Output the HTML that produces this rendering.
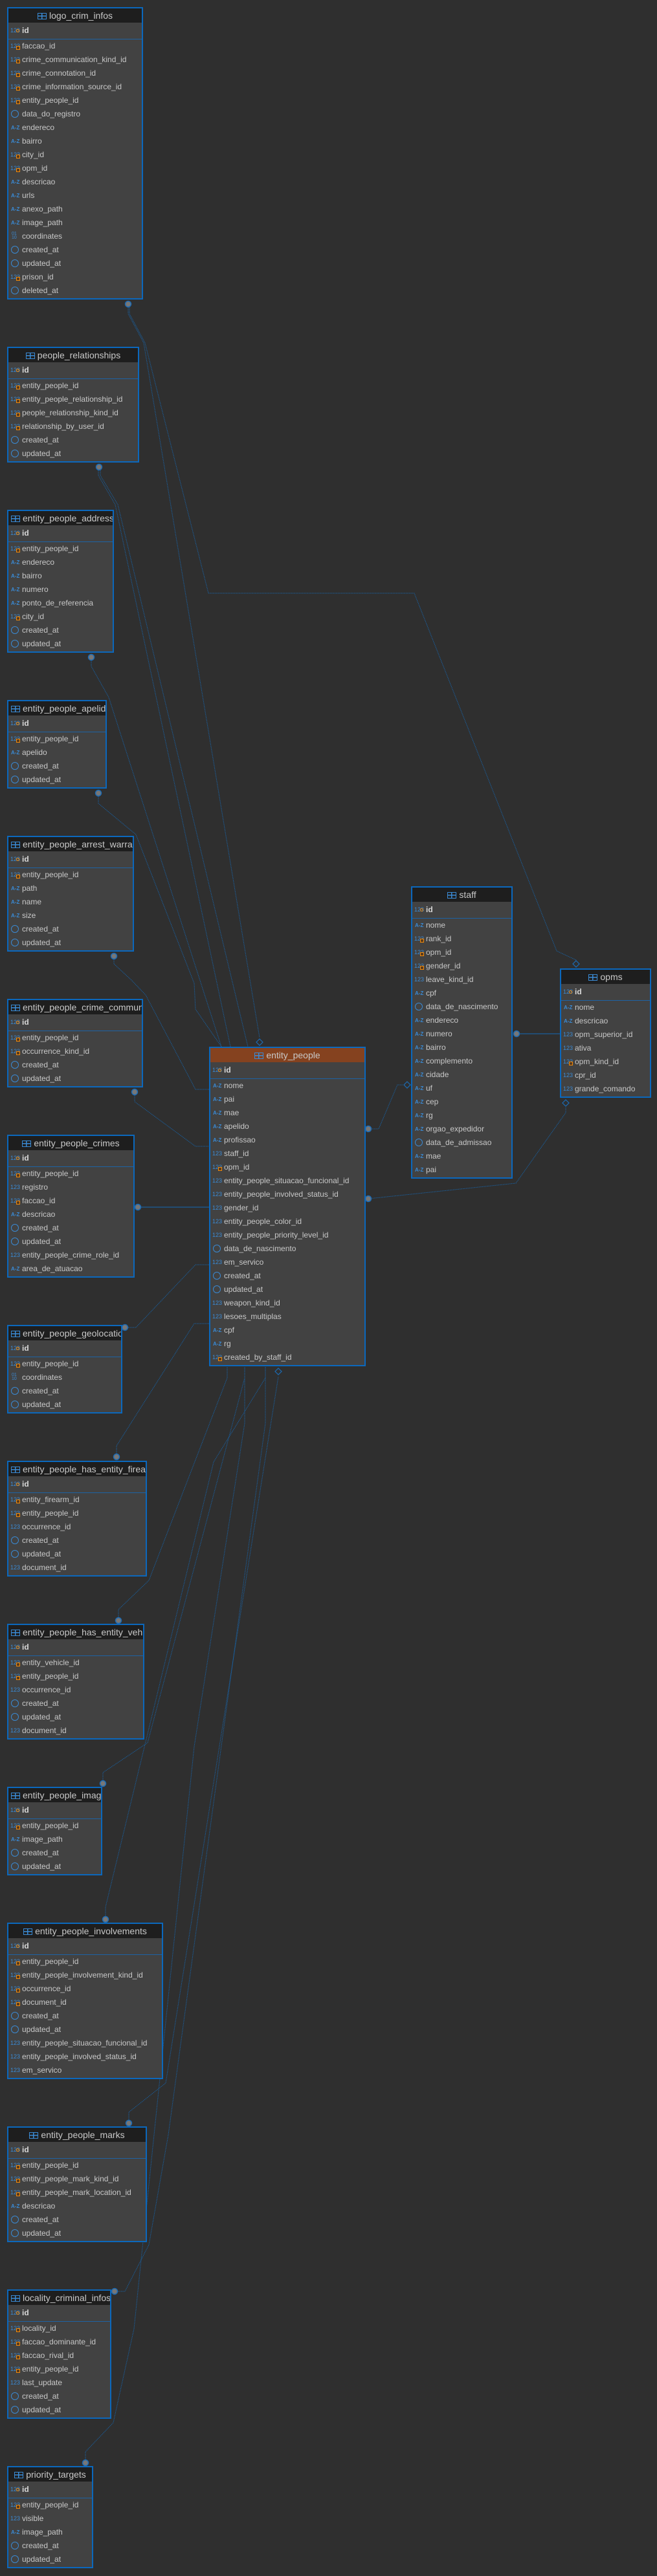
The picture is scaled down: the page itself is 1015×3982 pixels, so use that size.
<!DOCTYPE html>
<html><head><meta charset="utf-8">
<style>
*{margin:0;padding:0;box-sizing:border-box}
html,body{width:1015px;height:3982px;background:#2f2f2f;overflow:hidden;font-family:"Liberation Sans","DejaVu Sans",sans-serif}
.t{position:absolute;border:2px solid #0b68bd;background:#424242;overflow:hidden}
.h{height:22px;background:#1e1e1e;color:#c8c8c8;font-size:14px;line-height:22px;text-align:center;white-space:nowrap;overflow:hidden;padding:0 4px}
.h.o{background:#85421f}
.h .ti{display:inline-block;width:14px;height:10px;border:1.5px solid #3a8ad4;margin-right:4px;vertical-align:-1px;background:linear-gradient(#3a8ad4,#3a8ad4) 0 3px/100% 1.5px no-repeat,linear-gradient(#3a8ad4,#3a8ad4) 5px 0/1.5px 100% no-repeat}
.id{height:26px;border-bottom:1px solid #1d63a5;color:#d8d8d8;font-weight:bold;font-size:12px;line-height:25px;padding-left:21px;position:relative;white-space:nowrap}
.r{height:21px;color:#c8c8c8;font-size:12px;line-height:21px;padding-left:21px;position:relative;white-space:nowrap}
.r:first-of-type{margin-top:1px}
i{position:absolute;left:3px;top:0;font-style:normal;color:#3a8ad4;font-size:9px;font-weight:normal}
i.s{font-size:8px;font-weight:bold;left:4px}
i.c{width:12px;height:12px;border:1.5px solid #3a8ad4;border-radius:50%;top:4px;left:4px}
i.g{font-size:7px;line-height:6px;top:4px;left:5px}
i b{position:absolute;left:9px;top:10px;width:6px;height:6px;border:1.5px solid #f08a0c;background:#5a3a1a}
i.k b{border-radius:50%;background:none;width:5px;height:5px;top:10px}
svg{position:absolute;left:0;top:0}
</style></head><body>
<svg width="1015" height="3982">
<g fill="none" stroke="#1a5f9e" stroke-width="1" stroke-dasharray="1.5,1">
<polyline points="198,470 198,485 222,530 401,1604"/>
<polyline points="200,470 200,485 224,530 322,917 640,917 860,1470 890,1484"/>
<polyline points="152,722 152,735 178,780 356,1618"/>
<polyline points="155,722 155,735 182,780 383,1618"/>
<polyline points="141,1016 141,1030 168,1078 342,1618"/>
<polyline points="152,1226 152,1242 210,1290 300,1520 302,1560 342,1618"/>
<polyline points="176,1478 176,1490 203,1515 225,1538 302,1684 323,1684"/>
<polyline points="208,1688 208,1703 302,1772 323,1772"/>
<polyline points="193,2052 210,2052 302,1955 323,1955"/>
<polyline points="180,2252 180,2235 300,2046 323,2046"/>
<polyline points="183,2505 183,2488 230,2443 351,2130 351,2113"/>
<polyline points="159,2757 159,2740 228,2694 378,2130 378,2113"/>
<polyline points="163,2967 163,2948 330,2260 410,2130 410,2113"/>
<polyline points="199,3282 199,3265 256,3220 430,2128"/>
<polyline points="177,3542 193,3542 230,3470 260,3300 410,2200 410,2113"/>
<polyline points="132,3807 132,3790 175,3745 207,3600 300,2700 378,2200 378,2113"/>
<polyline points="874,1712 874,1720 797,1829 569,1853"/>
<polyline points="622,1677 614,1677 585,1745 569,1745"/>
</g>
<g stroke="#1a5f9e" stroke-width="1.2">
<line x1="213" y1="1866" x2="323" y2="1866"/>
<line x1="798" y1="1598" x2="865" y2="1598"/>
</g>
<g fill="#777" stroke="#1b6bb5" stroke-width="1.5">
<circle cx="198" cy="470" r="4.5"/><circle cx="153" cy="722" r="4.5"/><circle cx="141" cy="1016" r="4.5"/>
<circle cx="152" cy="1226" r="4.5"/><circle cx="176" cy="1478" r="4.5"/><circle cx="208" cy="1688" r="4.5"/>
<circle cx="213" cy="1866" r="4.5"/><circle cx="193" cy="2052" r="4.5"/><circle cx="180" cy="2252" r="4.5"/>
<circle cx="183" cy="2505" r="4.5"/><circle cx="159" cy="2757" r="4.5"/><circle cx="163" cy="2967" r="4.5"/>
<circle cx="199" cy="3282" r="4.5"/><circle cx="177" cy="3542" r="4.5"/><circle cx="132" cy="3807" r="4.5"/>
<circle cx="569" cy="1745" r="4.5"/><circle cx="569" cy="1853" r="4.5"/><circle cx="798" cy="1598" r="4.5"/>
</g>
<g fill="#2f2f2f" stroke="#1b6bb5" stroke-width="1.2">
<polygon points="401,1606 406,1611 401,1616 396,1611"/>
<polygon points="430,2115 435,2120 430,2125 425,2120"/>
<polygon points="629,1672 634,1677 629,1682 624,1677"/>
<polygon points="890,1485 895,1490 890,1495 885,1490"/>
<polygon points="874,1700 879,1705 874,1710 869,1705"/>
</g>
</svg>

<div class="t" style="left:11px;top:11px;width:210px;height:452px"><div class="h"><span class="ti"></span>logo_crim_infos</div><div class="id"><i class="k">123<b></b></i>id</div>
<div class="r"><i>123<b></b></i>faccao_id</div><div class="r"><i>123<b></b></i>crime_communication_kind_id</div><div class="r"><i>123<b></b></i>crime_connotation_id</div><div class="r"><i>123<b></b></i>crime_information_source_id</div><div class="r"><i>123<b></b></i>entity_people_id</div><div class="r"><i class="c"></i>data_do_registro</div><div class="r"><i class="s">A-Z</i>endereco</div><div class="r"><i class="s">A-Z</i>bairro</div><div class="r"><i>123<b></b></i>city_id</div><div class="r"><i>123<b></b></i>opm_id</div><div class="r"><i class="s">A-Z</i>descricao</div><div class="r"><i class="s">A-Z</i>urls</div><div class="r"><i class="s">A-Z</i>anexo_path</div><div class="r"><i class="s">A-Z</i>image_path</div><div class="r"><i class="g">01<br>10</i>coordinates</div><div class="r"><i class="c"></i>created_at</div><div class="r"><i class="c"></i>updated_at</div><div class="r"><i>123<b></b></i>prison_id</div><div class="r"><i class="c"></i>deleted_at</div></div>

<div class="t" style="left:11px;top:536px;width:204px;height:179px"><div class="h"><span class="ti"></span>people_relationships</div><div class="id"><i class="k">123<b></b></i>id</div>
<div class="r"><i>123<b></b></i>entity_people_id</div><div class="r"><i>123<b></b></i>entity_people_relationship_id</div><div class="r"><i>123<b></b></i>people_relationship_kind_id</div><div class="r"><i>123<b></b></i>relationship_by_user_id</div><div class="r"><i class="c"></i>created_at</div><div class="r"><i class="c"></i>updated_at</div></div>

<div class="t" style="left:11px;top:788px;width:165px;height:221px"><div class="h"><span class="ti"></span>entity_people_addresses</div><div class="id"><i class="k">123<b></b></i>id</div>
<div class="r"><i>123<b></b></i>entity_people_id</div><div class="r"><i class="s">A-Z</i>endereco</div><div class="r"><i class="s">A-Z</i>bairro</div><div class="r"><i class="s">A-Z</i>numero</div><div class="r"><i class="s">A-Z</i>ponto_de_referencia</div><div class="r"><i>123<b></b></i>city_id</div><div class="r"><i class="c"></i>created_at</div><div class="r"><i class="c"></i>updated_at</div></div>

<div class="t" style="left:11px;top:1082px;width:154px;height:137px"><div class="h"><span class="ti"></span>entity_people_apelidos</div><div class="id"><i class="k">123<b></b></i>id</div>
<div class="r"><i>123<b></b></i>entity_people_id</div><div class="r"><i class="s">A-Z</i>apelido</div><div class="r"><i class="c"></i>created_at</div><div class="r"><i class="c"></i>updated_at</div></div>

<div class="t" style="left:11px;top:1292px;width:196px;height:179px"><div class="h"><span class="ti"></span>entity_people_arrest_warrants</div><div class="id"><i class="k">123<b></b></i>id</div>
<div class="r"><i>123<b></b></i>entity_people_id</div><div class="r"><i class="s">A-Z</i>path</div><div class="r"><i class="s">A-Z</i>name</div><div class="r"><i class="s">A-Z</i>size</div><div class="r"><i class="c"></i>created_at</div><div class="r"><i class="c"></i>updated_at</div></div>

<div class="t" style="left:11px;top:1544px;width:210px;height:137px"><div class="h"><span class="ti"></span>entity_people_crime_communications</div><div class="id"><i class="k">123<b></b></i>id</div>
<div class="r"><i>123<b></b></i>entity_people_id</div><div class="r"><i>123<b></b></i>occurrence_kind_id</div><div class="r"><i class="c"></i>created_at</div><div class="r"><i class="c"></i>updated_at</div></div>

<div class="t" style="left:11px;top:1754px;width:197px;height:221px"><div class="h"><span class="ti"></span>entity_people_crimes</div><div class="id"><i class="k">123<b></b></i>id</div>
<div class="r"><i>123<b></b></i>entity_people_id</div><div class="r"><i>123</i>registro</div><div class="r"><i>123<b></b></i>faccao_id</div><div class="r"><i class="s">A-Z</i>descricao</div><div class="r"><i class="c"></i>created_at</div><div class="r"><i class="c"></i>updated_at</div><div class="r"><i>123</i>entity_people_crime_role_id</div><div class="r"><i class="s">A-Z</i>area_de_atuacao</div></div>

<div class="t" style="left:11px;top:2048px;width:178px;height:137px"><div class="h"><span class="ti"></span>entity_people_geolocations</div><div class="id"><i class="k">123<b></b></i>id</div>
<div class="r"><i>123<b></b></i>entity_people_id</div><div class="r"><i class="g">01<br>10</i>coordinates</div><div class="r"><i class="c"></i>created_at</div><div class="r"><i class="c"></i>updated_at</div></div>

<div class="t" style="left:11px;top:2258px;width:216px;height:179px"><div class="h"><span class="ti"></span>entity_people_has_entity_firearms</div><div class="id"><i class="k">123<b></b></i>id</div>
<div class="r"><i>123<b></b></i>entity_firearm_id</div><div class="r"><i>123<b></b></i>entity_people_id</div><div class="r"><i>123</i>occurrence_id</div><div class="r"><i class="c"></i>created_at</div><div class="r"><i class="c"></i>updated_at</div><div class="r"><i>123</i>document_id</div></div>

<div class="t" style="left:11px;top:2510px;width:212px;height:179px"><div class="h"><span class="ti"></span>entity_people_has_entity_vehicles</div><div class="id"><i class="k">123<b></b></i>id</div>
<div class="r"><i>123<b></b></i>entity_vehicle_id</div><div class="r"><i>123<b></b></i>entity_people_id</div><div class="r"><i>123</i>occurrence_id</div><div class="r"><i class="c"></i>created_at</div><div class="r"><i class="c"></i>updated_at</div><div class="r"><i>123</i>document_id</div></div>

<div class="t" style="left:11px;top:2762px;width:147px;height:137px"><div class="h"><span class="ti"></span>entity_people_images</div><div class="id"><i class="k">123<b></b></i>id</div>
<div class="r"><i>123<b></b></i>entity_people_id</div><div class="r"><i class="s">A-Z</i>image_path</div><div class="r"><i class="c"></i>created_at</div><div class="r"><i class="c"></i>updated_at</div></div>

<div class="t" style="left:11px;top:2972px;width:241px;height:242px"><div class="h"><span class="ti"></span>entity_people_involvements</div><div class="id"><i class="k">123<b></b></i>id</div>
<div class="r"><i>123<b></b></i>entity_people_id</div><div class="r"><i>123<b></b></i>entity_people_involvement_kind_id</div><div class="r"><i>123<b></b></i>occurrence_id</div><div class="r"><i>123<b></b></i>document_id</div><div class="r"><i class="c"></i>created_at</div><div class="r"><i class="c"></i>updated_at</div><div class="r"><i>123</i>entity_people_situacao_funcional_id</div><div class="r"><i>123</i>entity_people_involved_status_id</div><div class="r"><i>123</i>em_servico</div></div>

<div class="t" style="left:11px;top:3287px;width:216px;height:179px"><div class="h"><span class="ti"></span>entity_people_marks</div><div class="id"><i class="k">123<b></b></i>id</div>
<div class="r"><i>123<b></b></i>entity_people_id</div><div class="r"><i>123<b></b></i>entity_people_mark_kind_id</div><div class="r"><i>123<b></b></i>entity_people_mark_location_id</div><div class="r"><i class="s">A-Z</i>descricao</div><div class="r"><i class="c"></i>created_at</div><div class="r"><i class="c"></i>updated_at</div></div>

<div class="t" style="left:11px;top:3539px;width:161px;height:200px"><div class="h"><span class="ti"></span>locality_criminal_infos</div><div class="id"><i class="k">123<b></b></i>id</div>
<div class="r"><i>123<b></b></i>locality_id</div><div class="r"><i>123<b></b></i>faccao_dominante_id</div><div class="r"><i>123<b></b></i>faccao_rival_id</div><div class="r"><i>123<b></b></i>entity_people_id</div><div class="r"><i>123</i>last_update</div><div class="r"><i class="c"></i>created_at</div><div class="r"><i class="c"></i>updated_at</div></div>

<div class="t" style="left:11px;top:3812px;width:133px;height:158px"><div class="h"><span class="ti"></span>priority_targets</div><div class="id"><i class="k">123<b></b></i>id</div>
<div class="r"><i>123<b></b></i>entity_people_id</div><div class="r"><i>123</i>visible</div><div class="r"><i class="s">A-Z</i>image_path</div><div class="r"><i class="c"></i>created_at</div><div class="r"><i class="c"></i>updated_at</div></div>

<div class="t" style="left:323px;top:1618px;width:242px;height:494px"><div class="h o"><span class="ti"></span>entity_people</div><div class="id"><i class="k">123<b></b></i>id</div>
<div class="r"><i class="s">A-Z</i>nome</div><div class="r"><i class="s">A-Z</i>pai</div><div class="r"><i class="s">A-Z</i>mae</div><div class="r"><i class="s">A-Z</i>apelido</div><div class="r"><i class="s">A-Z</i>profissao</div><div class="r"><i>123</i>staff_id</div><div class="r"><i>123<b></b></i>opm_id</div><div class="r"><i>123</i>entity_people_situacao_funcional_id</div><div class="r"><i>123</i>entity_people_involved_status_id</div><div class="r"><i>123</i>gender_id</div><div class="r"><i>123</i>entity_people_color_id</div><div class="r"><i>123</i>entity_people_priority_level_id</div><div class="r"><i class="c"></i>data_de_nascimento</div><div class="r"><i>123</i>em_servico</div><div class="r"><i class="c"></i>created_at</div><div class="r"><i class="c"></i>updated_at</div><div class="r"><i>123</i>weapon_kind_id</div><div class="r"><i>123</i>lesoes_multiplas</div><div class="r"><i class="s">A-Z</i>cpf</div><div class="r"><i class="s">A-Z</i>rg</div><div class="r"><i>123<b></b></i>created_by_staff_id</div></div>

<div class="t" style="left:635px;top:1370px;width:157px;height:452px"><div class="h"><span class="ti"></span>staff</div><div class="id"><i class="k">123<b></b></i>id</div>
<div class="r"><i class="s">A-Z</i>nome</div><div class="r"><i>123<b></b></i>rank_id</div><div class="r"><i>123<b></b></i>opm_id</div><div class="r"><i>123<b></b></i>gender_id</div><div class="r"><i>123</i>leave_kind_id</div><div class="r"><i class="s">A-Z</i>cpf</div><div class="r"><i class="c"></i>data_de_nascimento</div><div class="r"><i class="s">A-Z</i>endereco</div><div class="r"><i class="s">A-Z</i>numero</div><div class="r"><i class="s">A-Z</i>bairro</div><div class="r"><i class="s">A-Z</i>complemento</div><div class="r"><i class="s">A-Z</i>cidade</div><div class="r"><i class="s">A-Z</i>uf</div><div class="r"><i class="s">A-Z</i>cep</div><div class="r"><i class="s">A-Z</i>rg</div><div class="r"><i class="s">A-Z</i>orgao_expedidor</div><div class="r"><i class="c"></i>data_de_admissao</div><div class="r"><i class="s">A-Z</i>mae</div><div class="r"><i class="s">A-Z</i>pai</div></div>

<div class="t" style="left:865px;top:1497px;width:141px;height:200px"><div class="h"><span class="ti"></span>opms</div><div class="id"><i class="k">123<b></b></i>id</div>
<div class="r"><i class="s">A-Z</i>nome</div><div class="r"><i class="s">A-Z</i>descricao</div><div class="r"><i>123</i>opm_superior_id</div><div class="r"><i>123</i>ativa</div><div class="r"><i>123<b></b></i>opm_kind_id</div><div class="r"><i>123</i>cpr_id</div><div class="r"><i>123</i>grande_comando</div></div>
</body></html>
